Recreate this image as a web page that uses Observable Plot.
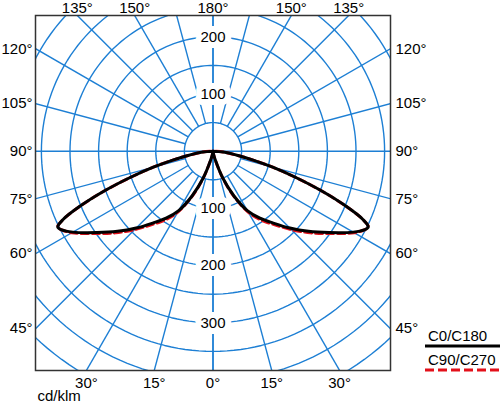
<!DOCTYPE html>
<html>
<head>
<meta charset="utf-8">
<script src="https://cdn.jsdelivr.net/npm/d3@7"></script>
<script src="https://cdn.jsdelivr.net/npm/@observablehq/plot@0.6"></script>
<style>
  html, body { margin: 0; padding: 0; background: white; }
  #wrap { position: relative; width: 500px; height: 406px; font-family: "Liberation Sans", Arial, sans-serif; }
  .leg { position: absolute; left: 425px; width: 75px; font-size: 15px; line-height: 16px; color: #000; }
  .leg span { display: block; padding-left: 3px; }
  .leg svg { display: block; }
</style>
</head>
<body>
<div id="wrap"></div>
<script>
// Gamma angles (degrees from nadir) and intensities (cd/klm)
const gamma = [0, 5, 10, 15, 20, 25, 30, 35, 40, 45, 50, 55, 60, 62.5, 64, 65.5, 67.5, 70, 72.5, 75, 77.5, 80, 85, 90];
const c0c180 = [0, 1, 5, 17, 50, 86, 120, 143, 164, 190, 218, 248, 283, 298, 302, 288, 252, 200, 150, 108, 72, 46, 18, 0];
const c90c270 = [0, 1, 5, 17, 51, 88, 123, 147, 168, 194, 222, 251, 285, 298, 302, 288, 252, 200, 150, 108, 72, 46, 18, 0];

const ringValues = [50, 100, 150, 200, 250, 300, 350, 400, 450, 500];
const ringLabels = [100, 200, 300];
const spokeAngles = [0, 15, 30, 45, 60, 75, 90, 105, 120, 135, 150, 165, 180];
const topLabels = [135, 150, 180];
const sideLabels = [120, 105, 90, 75, 60, 45];
const bottomLabels = [30, 15, 0];
const unitLabel = "cd/klm";
const seriesNames = ["C0/C180", "C90/C270"];

const blue = "#1d7fd4";
const rad = d => d * Math.PI / 180;
const X = [-310.3, 310.3], Y = [-383.4, 237.2];

// polar -> cartesian (y up), side -1 left, +1 right
const px = (g, r, s) => s * r * Math.sin(rad(g));
const py = (g, r) => -r * Math.cos(rad(g));

// grid rings
const rings = ringValues.flatMap(r => d3.range(0, 361, 2).map(t => ({r, x: r * Math.cos(rad(t)), y: r * Math.sin(rad(t))})));
// spokes
const spokes = [];
for (const g of spokeAngles) for (const s of [-1, 1]) {
  const r0 = (g % 90 === 0) ? 0 : 50;
  spokes.push({x1: px(g, r0, s), y1: py(g, r0), x2: px(g, 700, s), y2: py(g, 700)});
}
// curves
function curvePts(vals) {
  return [-1, 1].flatMap(s => gamma.map((g, i) => ({s, x: px(g, vals[i], s), y: py(g, vals[i])})));
}
// angle labels where the spoke meets the frame
function edgePoint(g, s) {
  const dx = s * Math.sin(rad(g)), dy = -Math.cos(rad(g));
  let t = Infinity;
  if (dx > 1e-9) t = Math.min(t, X[1] / dx);
  if (dx < -1e-9) t = Math.min(t, X[0] / dx);
  if (dy > 1e-9) t = Math.min(t, Y[1] / dy);
  if (dy < -1e-9) t = Math.min(t, Y[0] / dy);
  return {x: dx * t, y: dy * t};
}
const topPts = [];
for (const g of topLabels) for (const s of (g === 180 ? [1] : [-1, 1])) topPts.push({...edgePoint(g, s), label: g + "°"});
const bottomPts = [];
for (const g of bottomLabels) for (const s of (g === 0 ? [1] : [-1, 1])) bottomPts.push({...edgePoint(g, s), label: g + "°"});
const leftPts = sideLabels.map(g => ({...edgePoint(g, -1), label: g + "°"}));
const rightPts = sideLabels.map(g => ({...edgePoint(g, 1), label: g + "°"}));
const ringLab = ringLabels.flatMap(r => [{x: 0, y: r, label: String(r)}, {x: 0, y: -r, label: String(r)}])
  .filter(d => d.y < Y[1] - 10 && d.y > Y[0] + 10);

const chart = Plot.plot({
  width: 500, height: 406,
  marginLeft: 35, marginRight: 110, marginTop: 15, marginBottom: 36,
  x: {domain: X, axis: null},
  y: {domain: Y, axis: null},
  style: {fontFamily: "'Liberation Sans', Arial, sans-serif", fontSize: "15px", background: "white", color: "#000"},
  marks: [
    Plot.line(rings, {x: "x", y: "y", z: "r", stroke: blue, strokeWidth: 1.4, clip: true}),
    Plot.link(spokes, {x1: "x1", y1: "y1", x2: "x2", y2: "y2", stroke: blue, strokeWidth: 1.4, clip: true}),
    Plot.text(ringLab, {x: "x", y: "y", text: "label", fill: "#000", stroke: "white", strokeWidth: 12, fontSize: 15}),
    Plot.line(curvePts(c90c270), {x: "x", y: "y", z: "s", stroke: "#e3101a", strokeWidth: 3, strokeDasharray: "7,4", curve: "catmull-rom"}),
    Plot.line(curvePts(c0c180), {x: "x", y: "y", z: "s", stroke: "#000", strokeWidth: 3, curve: "catmull-rom"}),
    Plot.frame({stroke: "#333", strokeWidth: 1.5}),
    Plot.text(topPts, {x: "x", y: "y", text: "label", dy: -7, fill: "#000", fontSize: 15}),
    Plot.text(bottomPts, {x: "x", y: "y", text: "label", dy: 13, fill: "#000", fontSize: 15}),
    Plot.text(leftPts, {x: "x", y: "y", text: "label", dx: -3, textAnchor: "end", fill: "#000", fontSize: 15}),
    Plot.text(rightPts, {x: "x", y: "y", text: "label", dx: 5, textAnchor: "start", fill: "#000", fontSize: 15}),
    Plot.text([unitLabel], {frameAnchor: "bottom-left", text: d => d, dx: 2, dy: 30, textAnchor: "start", fill: "#000", fontSize: 15})
  ]
});
const wrap = document.getElementById("wrap");
wrap.appendChild(chart);

const legendStyles = [
  {top: 328, stroke: "#000", dash: null},
  {top: 352, stroke: "#e3101a", dash: "9,4"}
];
seriesNames.forEach((name, i) => {
  const d = document.createElement("div");
  d.className = "leg";
  d.style.top = legendStyles[i].top + "px";
  const t = document.createElement("span");
  t.textContent = name;
  d.appendChild(t);
  const svg = d3.create("svg").attr("width", 75).attr("height", 4);
  const ln = svg.append("line").attr("x1", 0).attr("x2", 75).attr("y1", 2).attr("y2", 2)
    .attr("stroke", legendStyles[i].stroke).attr("stroke-width", 3);
  if (legendStyles[i].dash) ln.attr("stroke-dasharray", legendStyles[i].dash);
  d.appendChild(svg.node());
  wrap.appendChild(d);
});
</script>
</body>
</html>
